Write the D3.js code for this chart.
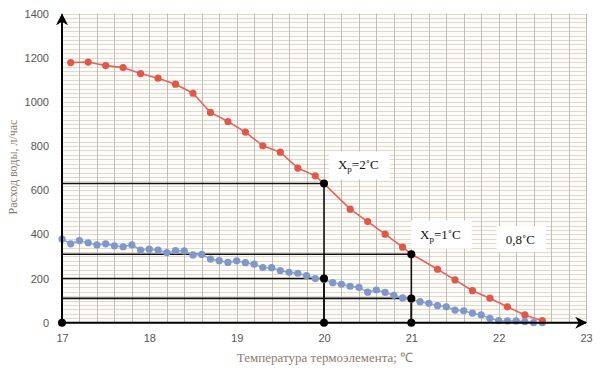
<!DOCTYPE html>
<html><head><meta charset="utf-8">
<script src="https://cdn.jsdelivr.net/npm/d3@7"></script>
<style>body{margin:0;background:#fff}svg{display:block}</style>
</head><body><svg id="c" width="600" height="374"></svg>
<script>
// ---- data ----
const redT = [17.1,17.3,17.5,17.7,17.9,18.1,18.3,18.5,18.7,18.9,19.1,19.3,19.5,19.7,19.9,20.0,20.3,20.5,20.7,20.9,21.0,21.3,21.5,21.7,21.9,22.1,22.3,22.5];
const redV = [1178,1180,1164,1155,1128,1107,1080,1039,952,911,863,801,772,700,665,630,514,458,401,342,311,242,194,145,111,72,35,9];
const redMarker = [1,1,1,1,1,1,1,1,1,1,1,1,1,1,1,0,1,1,1,1,0,1,1,1,1,1,1,1];
const blueT = [17.0,17.1,17.2,17.3,17.4,17.5,17.6,17.7,17.8,17.9,18.0,18.1,18.2,18.3,18.4,18.5,18.6,18.7,18.8,18.9,19.0,19.1,19.2,19.3,19.4,19.5,19.6,19.7,19.8,19.9,20.0,20.1,20.2,20.3,20.4,20.5,20.6,20.7,20.8,20.9,21.0,21.1,21.2,21.3,21.4,21.5,21.6,21.7,21.8,21.9,22.0,22.1,22.2,22.3,22.4,22.5];
const blueV = [379,357,372,362,352,357,348,344,352,329,333,329,317,326,325,307,309,288,281,273,280,272,265,250,249,236,228,224,213,200,196,181,174,165,160,138,148,137,124,112,106,95,88,77,72,57,54,43,35,20,9,8,8,5,0,0];
const refT = [20, 20, 21, 21];
const refV = [630, 200, 310, 110];
const dotT = [17, 20, 20, 20, 21, 21, 21];
const dotV = [0, 630, 200, 0, 310, 110, 0];
const xTicks = [17,18,19,20,21,22,23];
const yTicks = [0,200,400,600,800,1000,1200,1400];
const labels = [
  {t:20.16, v:694, main:"X", sub:"р", rest:"=2˚C"},
  {t:21.10, v:381, main:"X", sub:"р", rest:"=1˚C"},
  {t:22.08, v:356, main:"", sub:"", rest:"0,8˚C"}
];
const xTitle = "Температура термоэлемента; ℃";
const yTitle = "Расход воды, л/час";

// ---- chart ----
const svg = d3.select("#c");
const x = d3.scaleLinear().domain([17,23]).range([62,586]);
const y = d3.scaleLinear().domain([0,1400]).range([322.7,13.5]);

svg.append("rect").attr("x",x(17)).attr("y",y(1400)).attr("width",x(23)-x(17)).attr("height",y(0)-y(1400)).attr("fill","#fefcf6");

// grid
const g = svg.append("g");
g.selectAll("line.h").data(d3.range(20,1401,20)).join("line")
  .attr("x1",x(17)).attr("x2",x(23)).attr("y1",d=>Math.round(y(d))+0.5).attr("y2",d=>Math.round(y(d))+0.5)
  .attr("stroke","#dedad3").attr("stroke-width",1);
g.selectAll("line.v").data(d3.range(17.2,23.01,0.2)).join("line")
  .attr("y1",y(0)).attr("y2",y(1400)).attr("x1",d=>Math.round(x(d))+0.5).attr("x2",d=>Math.round(x(d))+0.5)
  .attr("stroke","#c2beb6").attr("stroke-width",1);

// reference lines
refT.forEach((t,i)=>{
  svg.append("line").attr("x1",x(17)).attr("x2",x(t)).attr("y1",y(refV[i])).attr("y2",y(refV[i]))
    .attr("stroke","#111").attr("stroke-width",1.6);
  svg.append("line").attr("x1",x(t)).attr("x2",x(t)).attr("y1",y(0)).attr("y2",y(refV[i]))
    .attr("stroke","#111").attr("stroke-width",1.6);
});

// series
const line = d3.line().x(d=>x(d[0])).y(d=>y(d[1]));
const blue = blueT.map((t,i)=>[t,blueV[i]]);
const red = redT.map((t,i)=>[t,redV[i]]);
svg.append("path").attr("d",line(blue)).attr("fill","none").attr("stroke","#8ea4d0").attr("stroke-width",1.6);
svg.selectAll("circle.b").data(blue).join("circle").attr("cx",d=>x(d[0])).attr("cy",d=>y(d[1])).attr("r",3.6).attr("fill","#7f97c9");
svg.append("path").attr("d",line(red)).attr("fill","none").attr("stroke","#e2645a").attr("stroke-width",1.6);
svg.selectAll("circle.r").data(red.filter((d,i)=>redMarker[i])).join("circle").attr("cx",d=>x(d[0])).attr("cy",d=>y(d[1])).attr("r",3.6).attr("fill","#e0584c");

// axes lines with arrows
const defs = svg.append("defs");
defs.append("marker").attr("id","arr").attr("viewBox","0 0 10 10").attr("refX",9).attr("refY",5)
  .attr("markerWidth",6).attr("markerHeight",6).attr("orient","auto")
  .append("path").attr("d","M0,0 L10,5 L0,10 L3,5 Z").attr("fill","#000");
svg.append("line").attr("x1",x(17)).attr("x2",x(17)).attr("y1",y(0)).attr("y2",y(1400)+1).attr("stroke","#000").attr("stroke-width",2).attr("marker-end","url(#arr)");
svg.append("line").attr("x1",x(17)).attr("x2",x(23)).attr("y1",y(0)).attr("y2",y(0)).attr("stroke","#000").attr("stroke-width",2).attr("marker-end","url(#arr)");

// black dots
svg.selectAll("circle.k").data(dotT.map((t,i)=>[t,dotV[i]])).join("circle")
  .attr("cx",d=>x(d[0])).attr("cy",d=>y(d[1])).attr("r",4).attr("fill","#000");

// tick labels
const fmt = d3.format("d");
const ya = svg.append("g").attr("transform",`translate(${x(17)},0)`).call(d3.axisLeft(y).tickValues(yTicks).tickFormat(fmt).tickSize(0).tickPadding(13));
const xa = svg.append("g").attr("transform",`translate(0,${y(0)})`).call(d3.axisBottom(x).tickValues(xTicks).tickFormat(fmt).tickSize(0).tickPadding(12));
[ya,xa].forEach(a=>{a.select(".domain").remove();a.selectAll("text").attr("font-family","Liberation Sans, Arial, sans-serif").attr("font-size",11).attr("fill","#555");});

// annotation labels
labels.forEach(l=>{
  const gx = svg.append("g");
  const t = gx.append("text").attr("x",x(l.t)).attr("y",y(l.v)).attr("font-family","Liberation Serif, Times New Roman, serif").attr("font-size",13).attr("fill","#111");
  if(l.main){
    t.append("tspan").text(l.main);
    t.append("tspan").text(l.sub).attr("font-size",9).attr("dy",3);
    t.append("tspan").text(l.rest).attr("dy",-3);
  } else t.append("tspan").text(l.rest);
  const bb = t.node().getBBox();
  gx.insert("rect","text").attr("x",bb.x-9).attr("y",bb.y-6).attr("width",bb.width+20).attr("height",bb.height+11).attr("fill","#fff");
});

// axis titles
svg.append("text").attr("x",325).attr("y",362).attr("text-anchor","middle")
  .attr("font-family","Liberation Serif, Times New Roman, serif").attr("font-size",13).attr("fill","#8a7c6e").text(xTitle);
svg.append("text").attr("transform","translate(17,167) rotate(-90)").attr("text-anchor","middle")
  .attr("font-family","Liberation Serif, Times New Roman, serif").attr("font-size",12).attr("fill","#8a7c6e").text(yTitle);
</script></body></html>
